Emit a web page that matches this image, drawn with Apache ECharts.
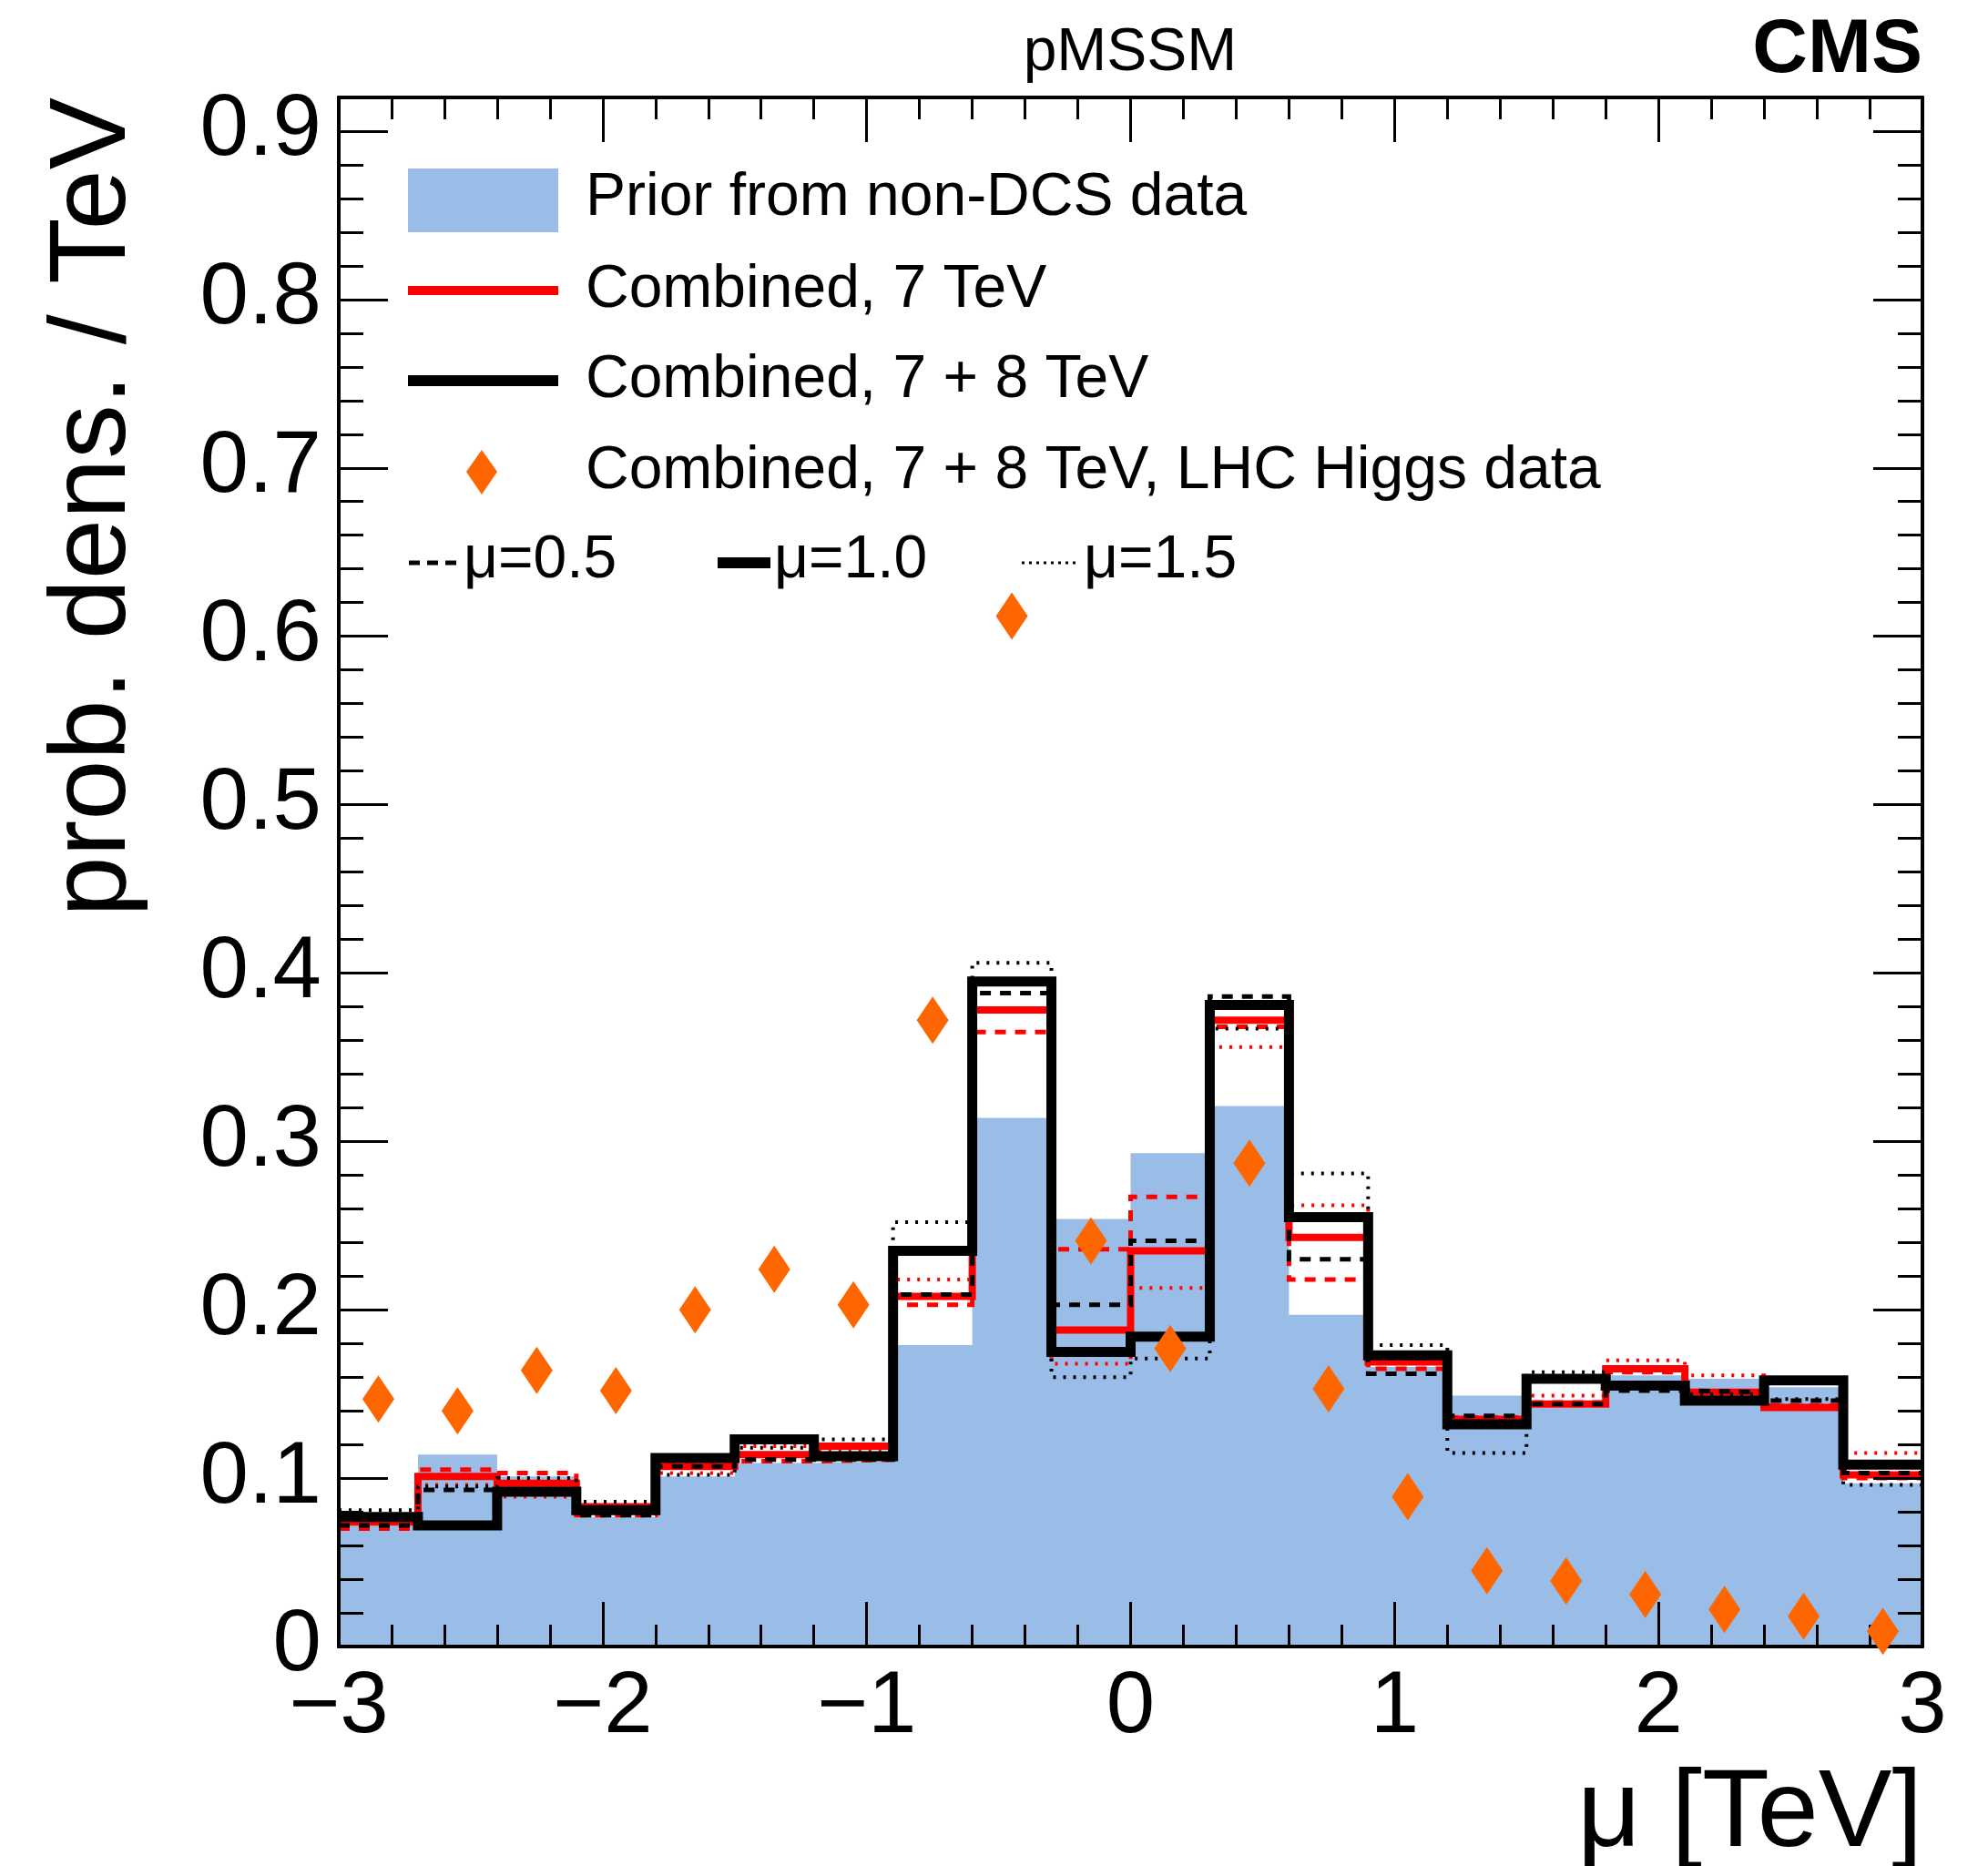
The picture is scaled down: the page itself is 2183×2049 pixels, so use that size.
<!DOCTYPE html>
<html>
<head>
<meta charset="utf-8">
<script src="https://cdn.jsdelivr.net/npm/echarts@6/dist/echarts.min.js"></script>
<style>
  html, body { margin: 0; padding: 0; background: #fff; }
  #chart { width: 2183px; height: 2049px; }
</style>
</head>
<body>
<div id="chart"></div>
<script>
// bin edges in mu [TeV]
var edges = [-3, -2.7, -2.4, -2.1, -1.8, -1.5, -1.2, -0.9, -0.6, -0.3, 0,
             0.3, 0.6, 0.9, 1.2, 1.5, 1.8, 2.1, 2.4, 2.7, 3];
// prior from non-DCS data
var prior = [0.072, 0.114, 0.101, 0.077, 0.101, 0.109, 0.110, 0.179, 0.314, 0.254,
             0.293, 0.321, 0.197, 0.166, 0.149, 0.142, 0.161, 0.159, 0.154, 0.097];
// combined 7 TeV (mu = 1.0, 0.5, 1.5)
var comb7 = [0.074, 0.101, 0.097, 0.083, 0.107, 0.114, 0.119, 0.208, 0.378, 0.188,
             0.235, 0.372, 0.243, 0.169, 0.135, 0.144, 0.165, 0.151, 0.142, 0.102];
var comb7_05 = [0.070, 0.105, 0.103, 0.078, 0.108, 0.110, 0.111, 0.203, 0.365, 0.236,
                0.267, 0.368, 0.218, 0.165, 0.136, 0.145, 0.163, 0.151, 0.143, 0.100];
var comb7_15 = [0.076, 0.096, 0.089, 0.080, 0.103, 0.119, 0.116, 0.218, 0.396, 0.168,
                0.213, 0.356, 0.262, 0.170, 0.134, 0.149, 0.170, 0.161, 0.143, 0.115];
// combined 7 + 8 TeV (mu = 1.0, 0.5, 1.5)
var comb78 = [0.077, 0.072, 0.092, 0.081, 0.112, 0.123, 0.113, 0.235, 0.395, 0.175,
              0.184, 0.381, 0.255, 0.173, 0.132, 0.159, 0.155, 0.146, 0.158, 0.108];
var comb78_05 = [0.072, 0.093, 0.092, 0.078, 0.107, 0.111, 0.111, 0.209, 0.388, 0.203,
                 0.241, 0.386, 0.230, 0.162, 0.137, 0.144, 0.152, 0.151, 0.146, 0.103];
var comb78_15 = [0.081, 0.095, 0.100, 0.086, 0.102, 0.118, 0.123, 0.252, 0.406, 0.160,
                 0.171, 0.367, 0.281, 0.179, 0.115, 0.163, 0.153, 0.150, 0.147, 0.096];
// combined 7 + 8 TeV with LHC Higgs data
var higgs = [0.147, 0.140, 0.164, 0.152, 0.200, 0.224, 0.203, 0.372, 0.612, 0.241,
             0.177, 0.287, 0.153, 0.089, 0.045, 0.039, 0.031, 0.022, 0.018, 0.009];

var FONT = "'Liberation Sans', Arial, Helvetica, sans-serif";
var BLUE = '#99bde6';
var ORANGE = '#ff6600';
var DASH = [12, 10];
var DOT = [3, 8];

function stepData(vals) {
  var d = vals.map(function (v, i) { return [edges[i], v]; });
  d.push([edges[edges.length - 1], vals[vals.length - 1]]);
  return d;
}
function centers(vals) {
  return vals.map(function (v, i) { return [(edges[i] + edges[i + 1]) / 2, v]; });
}
function stepLine(name, vals, color, width, type, z) {
  return {
    type: 'line', name: name, data: stepData(vals), step: 'end',
    symbol: 'none', z: z,
    lineStyle: { color: color, width: width, type: type, cap: 'butt', join: 'miter' }
  };
}

var chart = echarts.init(document.getElementById('chart'));

var xBase = {
  type: 'value', min: -3, max: 3, interval: 1, z: 10,
  axisLine: { show: true, onZero: false, lineStyle: { color: '#000', width: 4 } },
  axisTick: { show: true, inside: true, length: 49, lineStyle: { color: '#000', width: 3 } },
  minorTick: { show: true, splitNumber: 5, length: 24, lineStyle: { color: '#000', width: 3 } },
  splitLine: { show: false }
};
function yAxisDef(pos, interval, len, labels) {
  return {
    type: 'value', position: pos, min: 0, max: 0.92, interval: interval, z: 10,
    axisLine: { show: true, onZero: false, lineStyle: { color: '#000', width: 4 } },
    axisTick: { show: true, inside: true, length: len, lineStyle: { color: '#000', width: 3 } },
    splitLine: { show: false },
    axisLabel: labels ? {
      show: true, margin: 19, color: '#000', fontSize: 96, fontFamily: FONT,
      formatter: function (v) {
        if (Math.abs(v * 10 - Math.round(v * 10)) > 1e-6) return '';
        return String(Math.round(v * 10) / 10);
      }
    } : { show: false }
  };
}

var option = {
  animation: false,
  backgroundColor: '#fff',
  grid: { left: 372, top: 107, right: 72, bottom: 241, containLabel: false },
  xAxis: [
    Object.assign({}, xBase, {
      position: 'bottom',
      axisLabel: {
        show: true, margin: 20, color: '#000', fontSize: 96, fontFamily: FONT,
        formatter: function (v) { return v < 0 ? '\u2212' + Math.abs(v) : String(v); }
      }
    }),
    Object.assign({}, xBase, { position: 'top', axisLabel: { show: false } })
  ],
  yAxis: [
    yAxisDef('left', 0.1, 54, true),
    yAxisDef('left', 0.02, 27, false),
    yAxisDef('right', 0.1, 54, false),
    yAxisDef('right', 0.02, 27, false)
  ],
  series: [
    {
      type: 'line', name: 'Prior from non-DCS data', data: stepData(prior), step: 'end',
      symbol: 'none', z: 1, lineStyle: { width: 0, color: BLUE },
      areaStyle: { color: BLUE, opacity: 1 }
    },
    stepLine('7 TeV, mu=1.5', comb7_15, '#ff0000', 4, DOT, 2),
    stepLine('7 TeV, mu=0.5', comb7_05, '#ff0000', 5, DASH, 2),
    stepLine('Combined, 7 TeV', comb7, '#ff0000', 8, 'solid', 3),
    stepLine('7+8 TeV, mu=0.5', comb78_05, '#000', 5, DASH, 4),
    stepLine('7+8 TeV, mu=1.5', comb78_15, '#000', 4, DOT, 4),
    stepLine('Combined, 7 + 8 TeV', comb78, '#000', 11, 'solid', 5),
    {
      type: 'scatter', name: 'Combined, 7 + 8 TeV, LHC Higgs data', data: centers(higgs),
      symbol: 'diamond', symbolSize: [35, 52], clip: false, z: 12,
      itemStyle: { color: ORANGE, opacity: 1 }
    }
  ],
  graphic: [
    // legend
    { type: 'rect', shape: { x: 448, y: 185, width: 165, height: 70 }, style: { fill: BLUE }, z: 20 },
    { type: 'line', shape: { x1: 448, y1: 319, x2: 613, y2: 319 }, style: { stroke: '#ff0000', lineWidth: 10 }, z: 20 },
    { type: 'line', shape: { x1: 448, y1: 418, x2: 613, y2: 418 }, style: { stroke: '#000', lineWidth: 12 }, z: 20 },
    { type: 'polygon', shape: { points: [[529, 494], [546, 518], [529, 543], [512, 518]] }, style: { fill: ORANGE }, z: 20 },
    { type: 'text', x: 643, y: 218, z: 20, style: { text: 'Prior from non-DCS data', fontSize: 66, fontFamily: FONT, fill: '#000', align: 'left', verticalAlign: 'middle' } },
    { type: 'text', x: 643, y: 319, z: 20, style: { text: 'Combined, 7 TeV', fontSize: 66, fontFamily: FONT, fill: '#000', align: 'left', verticalAlign: 'middle' } },
    { type: 'text', x: 643, y: 418, z: 20, style: { text: 'Combined, 7 + 8 TeV', fontSize: 66, fontFamily: FONT, fill: '#000', align: 'left', verticalAlign: 'middle' } },
    { type: 'text', x: 643, y: 518, z: 20, style: { text: 'Combined, 7 + 8 TeV, LHC Higgs data', fontSize: 66, fontFamily: FONT, fill: '#000', align: 'left', verticalAlign: 'middle' } },
    { type: 'line', shape: { x1: 449, y1: 618, x2: 506, y2: 618 }, style: { stroke: '#000', lineWidth: 5, lineDash: [12, 8] }, z: 20 },
    { type: 'text', x: 509, y: 616, z: 20, style: { text: '\u03bc=0.5', fontSize: 66, fontFamily: FONT, fill: '#000', align: 'left', verticalAlign: 'middle' } },
    { type: 'line', shape: { x1: 788, y1: 618, x2: 846, y2: 618 }, style: { stroke: '#000', lineWidth: 12 }, z: 20 },
    { type: 'text', x: 850, y: 616, z: 20, style: { text: '\u03bc=1.0', fontSize: 66, fontFamily: FONT, fill: '#000', align: 'left', verticalAlign: 'middle' } },
    { type: 'line', shape: { x1: 1122, y1: 618, x2: 1183, y2: 618 }, style: { stroke: '#000', lineWidth: 3, lineDash: [3, 5] }, z: 20 },
    { type: 'text', x: 1190, y: 616, z: 20, style: { text: '\u03bc=1.5', fontSize: 66, fontFamily: FONT, fill: '#000', align: 'left', verticalAlign: 'middle' } },
    // titles
    { type: 'text', x: 1241, y: 59, z: 20, style: { text: 'pMSSM', fontSize: 66, fontFamily: FONT, fill: '#000', align: 'center', verticalAlign: 'middle' } },
    { type: 'text', x: 2111, y: 56, z: 20, style: { text: 'CMS', fontSize: 84, fontWeight: 'bold', fontFamily: FONT, fill: '#000', align: 'right', verticalAlign: 'middle' } },
    { type: 'text', x: 2111, y: 1994, z: 20, style: { text: '\u03bc [TeV]', fontSize: 121, fontFamily: FONT, fill: '#000', align: 'right', verticalAlign: 'middle' } },
    { type: 'text', x: 104, y: 107, rotation: Math.PI / 2, z: 20, style: { text: 'prob. dens. / TeV', fontSize: 119, fontFamily: FONT, fill: '#000', align: 'right', verticalAlign: 'middle' } }
  ]
};
chart.setOption(option);
</script>
</body>
</html>
